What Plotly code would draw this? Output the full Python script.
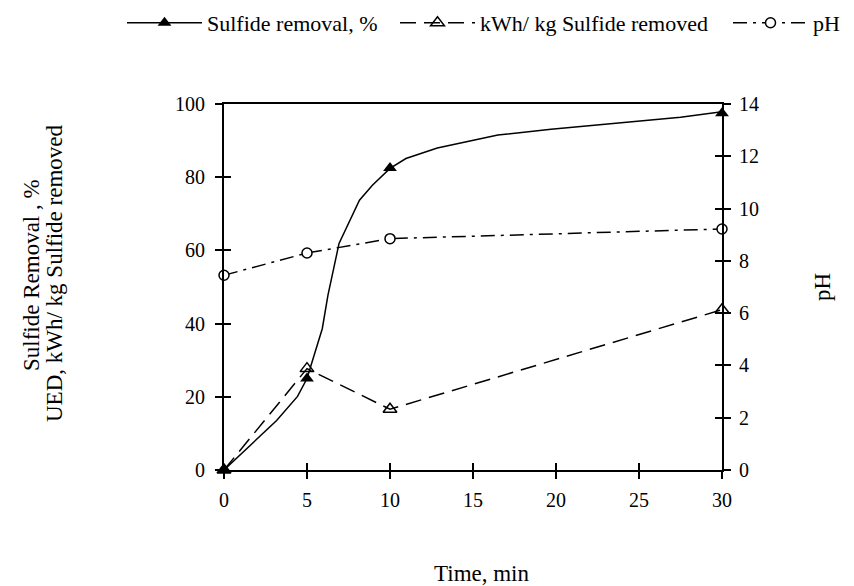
import plotly.graph_objects as go

# Data
time_pts = [0, 5, 10, 30]
sulfide_removal = [0, 25, 82.5, 97.5]
kwh_per_kg = [0, 27.7, 16.6, 43.8]
ph_vals = [7.45, 8.3, 8.85, 9.22]

# smooth hand-drawn curve for sulfide removal
curve_x = [0, 3.17, 4.43, 5, 5.92, 6.26, 6.93, 8.16, 8.94, 10, 10.96, 12.85, 16.5, 19.7, 27.5, 30]
curve_y = [0, 13.5, 20.1, 25, 38.6, 47.7, 61.9, 73.7, 77.8, 82.4, 85.1, 88.0, 91.5, 93.1, 96.4, 97.9]

x_ticks = [0, 5, 10, 15, 20, 25, 30]
left_ticks = [0, 20, 40, 60, 80, 100]
right_ticks = [0, 2, 4, 6, 8, 10, 12, 14]

FONT = "Liberation Serif, Times New Roman, serif"
TICKFONT = dict(family=FONT, size=20, color="black")
fig = go.Figure()

fig.add_trace(go.Scatter(x=curve_x, y=curve_y, mode="lines", line=dict(color="black", width=1.5),
                         showlegend=False, hoverinfo="skip", cliponaxis=False))
fig.add_trace(go.Scatter(x=time_pts, y=sulfide_removal, mode="markers", cliponaxis=False,
                         marker=dict(symbol="triangle-up", size=12, color="black"), showlegend=False))
# legend entry for sulfide removal
fig.add_trace(go.Scatter(x=[None], y=[None], mode="lines+markers", name="Sulfide removal, %",
                         line=dict(color="black", width=1.5),
                         marker=dict(symbol="triangle-up", size=12, color="black"), legendwidth=183))
fig.add_trace(go.Scatter(x=time_pts, y=kwh_per_kg, mode="lines+markers", name="kWh/ kg Sulfide removed",
                         line=dict(color="black", width=1.5, dash="16px,8px"), cliponaxis=False,
                         marker=dict(symbol="triangle-up-open", size=12, color="black", line=dict(width=1.5)),
                         legendwidth=243))
fig.add_trace(go.Scatter(x=time_pts, y=ph_vals, mode="lines+markers", name="pH", yaxis="y2",
                         line=dict(color="black", width=1.5, dash="14px,6px,3px,6px"), cliponaxis=False,
                         marker=dict(symbol="circle", size=10, color="white", line=dict(width=1.5, color="black")),
                         legendwidth=28))
# empty traces so that the inner-tick overlay axes are drawn
fig.add_trace(go.Scatter(x=[None], y=[None], xaxis="x2", yaxis="y3", showlegend=False, hoverinfo="skip"))
fig.add_trace(go.Scatter(x=[None], y=[None], xaxis="x2", yaxis="y4", showlegend=False, hoverinfo="skip"))

axis_common = dict(showgrid=False, zeroline=False, linecolor="black", linewidth=2,
                   tickcolor="black", tickwidth=1.5, ticklen=7, tickfont=TICKFONT)
inner = dict(ticks="inside", showticklabels=False, showline=False, showgrid=False, zeroline=False,
             tickcolor="black", tickwidth=1.5, ticklen=7)

fig.update_layout(
    width=854, height=586,
    margin=dict(l=224, r=132, t=104, b=116, autoexpand=False),
    paper_bgcolor="white", plot_bgcolor="white",
    font=dict(family=FONT, size=20, color="black"),
    xaxis=dict(range=[0, 30], tickvals=x_ticks, ticks="outside", showline=True, mirror=True,
               ticklabelstandoff=4, **axis_common),
    xaxis2=dict(range=[0, 30], tickvals=x_ticks, overlaying="x", anchor="y", **inner),
    yaxis=dict(range=[0, 100], tickvals=left_ticks, ticks="outside", showline=True,
               ticklabelstandoff=6, **axis_common),
    yaxis2=dict(range=[0, 14], tickvals=right_ticks, ticks="outside", overlaying="y", side="right",
                anchor="x", showline=True, ticklabelstandoff=4, **axis_common),
    yaxis3=dict(range=[0, 14], tickvals=right_ticks, overlaying="y", side="right", anchor="x2", **inner),
    yaxis4=dict(range=[0, 100], tickvals=left_ticks, overlaying="y", side="left", anchor="x2", **inner),
    legend=dict(orientation="h", xref="paper", x=(122 - 224) / 498, xanchor="left",
                y=(470 - 23) / 366, yanchor="middle",
                font=dict(family=FONT, size=22, color="black"), bgcolor="rgba(0,0,0,0)",
                itemwidth=75, tracegroupgap=0, borderwidth=0),
    annotations=[
        dict(text="Sulfide Removal , %", xref="paper", yref="paper",
             x=(31 - 224) / 498, y=(470 - 275) / 366, xanchor="center", yanchor="middle",
             textangle=-90, showarrow=False, font=dict(family=FONT, size=23, color="black")),
        dict(text="UED, kWh/ kg Sulfide removed", xref="paper", yref="paper",
             x=(54 - 224) / 498, y=(470 - 273) / 366, xanchor="center", yanchor="middle",
             textangle=-90, showarrow=False, font=dict(family=FONT, size=23, color="black")),
        dict(text="pH", xref="paper", yref="paper", x=(822 - 224) / 498, y=(470 - 287) / 366,
             xanchor="center", yanchor="middle", textangle=-90, showarrow=False,
             font=dict(family=FONT, size=23, color="black")),
        dict(text="Time, min", xref="paper", yref="paper", x=(482 - 224) / 498, y=(470 - 573) / 366,
             xanchor="center", yanchor="middle", showarrow=False,
             font=dict(family=FONT, size=23, color="black")),
    ],
)

fig.write_html("out.html")
